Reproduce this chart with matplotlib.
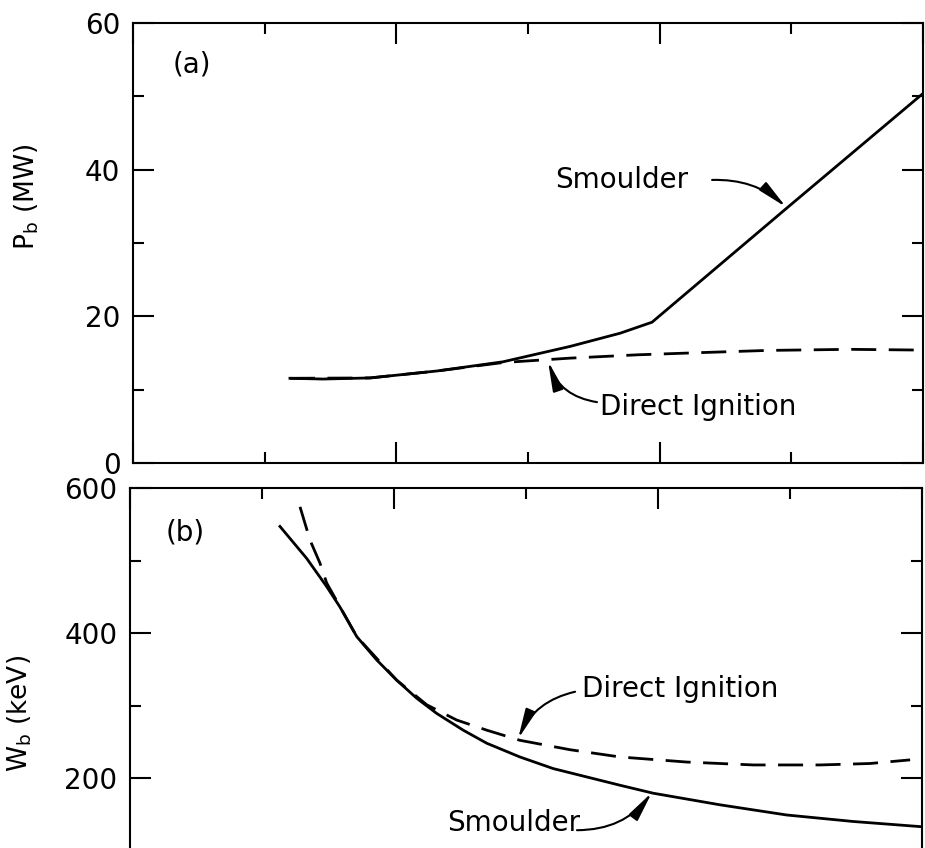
import numpy as np
import matplotlib
matplotlib.use('Agg')
import matplotlib.pyplot as plt
from matplotlib.ticker import MultipleLocator, NullFormatter

plt.rcParams['font.family'] = ['DejaVu Sans']
plt.rcParams['mathtext.default'] = 'regular'

# (a) beam power, MW  -- x in arbitrary units (axis labels are cut off)
pb_smoulder_x = [0.596, 0.722, 0.900, 1.155, 1.405, 1.660, 1.850, 1.971, 2.484, 2.997]
pb_smoulder_y = [11.55, 11.45, 11.6, 12.55, 13.8, 15.9, 17.7, 19.2, 34.8, 50.3]
pb_direct_x = [0.596, 0.900, 1.155, 1.405, 1.660, 1.914, 2.153, 2.408, 2.723, 2.989]
pb_direct_y = [11.55, 11.6, 12.55, 13.7, 14.3, 14.75, 15.05, 15.35, 15.5, 15.4]

# (b) beam energy, keV
wb_smoulder_x = [0.568, 0.669, 0.745, 0.795, 0.859, 0.934, 1.010, 1.086, 1.162, 1.262,
                 1.351, 1.477, 1.603, 1.856, 1.982, 2.235, 2.487, 2.740, 2.992]
wb_smoulder_y = [547, 503, 464, 436, 395, 363, 335, 310, 289, 266,
                 248, 229, 213, 190, 179, 163, 149, 140, 133]
wb_direct_x = [0.644, 0.682, 0.720, 0.745, 0.859, 1.010, 1.124, 1.237, 1.351, 1.477,
               1.667, 1.856, 2.109, 2.361, 2.614, 2.803, 2.955]
wb_direct_y = [574, 528, 496, 469, 395, 335, 301, 280, 266, 252,
               239, 229, 222, 218, 218, 220, 225]

W, H = 925, 848
fig = plt.figure(figsize=(W / 100, H / 100), dpi=100)

def px_axes(left, right, top, bottom):
    return fig.add_axes([left / W, 1 - bottom / H, (right - left) / W, (bottom - top) / H])

ax1 = px_axes(133, 923, 23, 463)
ax2 = px_axes(130, 922, 488, 923)   # lower part falls off the page, as in the scan

def style(ax, ymax, ystep):
    ax.set_xlim(0, 3)
    ax.set_ylim(0, ymax)
    ax.xaxis.set_major_locator(MultipleLocator(1))
    ax.xaxis.set_minor_locator(MultipleLocator(0.5))
    ax.yaxis.set_major_locator(MultipleLocator(ystep))
    ax.yaxis.set_minor_locator(MultipleLocator(ystep / 2))
    ax.xaxis.set_major_formatter(NullFormatter())
    ax.tick_params(which='both', direction='in', top=True, right=True,
                   width=1.5, labelsize=20, pad=9)
    ax.tick_params(which='major', length=15)
    ax.tick_params(which='minor', length=8)
    for s in ax.spines.values():
        s.set_linewidth(1.5)

style(ax1, 60, 20)
style(ax2, 600, 200)
ax2.set_yticks([0, 200, 400, 600], ['', '200', '400', '600'])

dash = (9, 4.5)
ax1.plot(pb_smoulder_x, pb_smoulder_y, color='k', lw=2)
ax1.plot(pb_direct_x, pb_direct_y, color='k', lw=2, dashes=dash)
ax2.plot(wb_smoulder_x, wb_smoulder_y, color='k', lw=2)
ax2.plot(wb_direct_x, wb_direct_y, color='k', lw=2, dashes=dash)

fs = 20
arrow = dict(arrowstyle='-|>,head_length=0.9,head_width=0.16', color='k', lw=1.5,
             mutation_scale=20, shrinkA=0, shrinkB=0)

ax1.text(0.224, 54.3, '(a)', fontsize=fs, ha='center', va='center')
ax1.text(1.603, 38.6, 'Smoulder', fontsize=fs, ha='left', va='center')
ax1.annotate('', xy=(2.48, 34.9), xytext=(2.199, 38.6),
             arrowprops=dict(arrow, connectionstyle='arc3,rad=-0.2'))
ax1.text(1.774, 7.6, 'Direct Ignition', fontsize=fs, ha='left', va='center')
ax1.annotate('', xy=(1.576, 13.9), xytext=(1.762, 8.3),
             arrowprops=dict(arrow, connectionstyle='arc3,rad=-0.3'))

ax2.text(0.208, 538, '(b)', fontsize=fs, ha='center', va='center')
ax2.text(1.712, 323, 'Direct Ignition', fontsize=fs, ha='left', va='center')
ax2.annotate('', xy=(1.470, 254), xytext=(1.686, 319),
             arrowprops=dict(arrow, connectionstyle='arc3,rad=0.25'))
ax2.text(1.201, 138, 'Smoulder', fontsize=fs, ha='left', va='center')
ax2.annotate('', xy=(1.977, 180), xytext=(1.693, 128),
             arrowprops=dict(arrow, connectionstyle='arc3,rad=0.25'))

fig.text(27 / W, 1 - 197 / H, '$P_b$ (MW)', rotation=90, fontsize=19, ha='center', va='center')
fig.text(20 / W, 1 - 713 / H, '$W_b$ (keV)', rotation=90, fontsize=19, ha='center', va='center')

fig.savefig('out.png', dpi=100)
